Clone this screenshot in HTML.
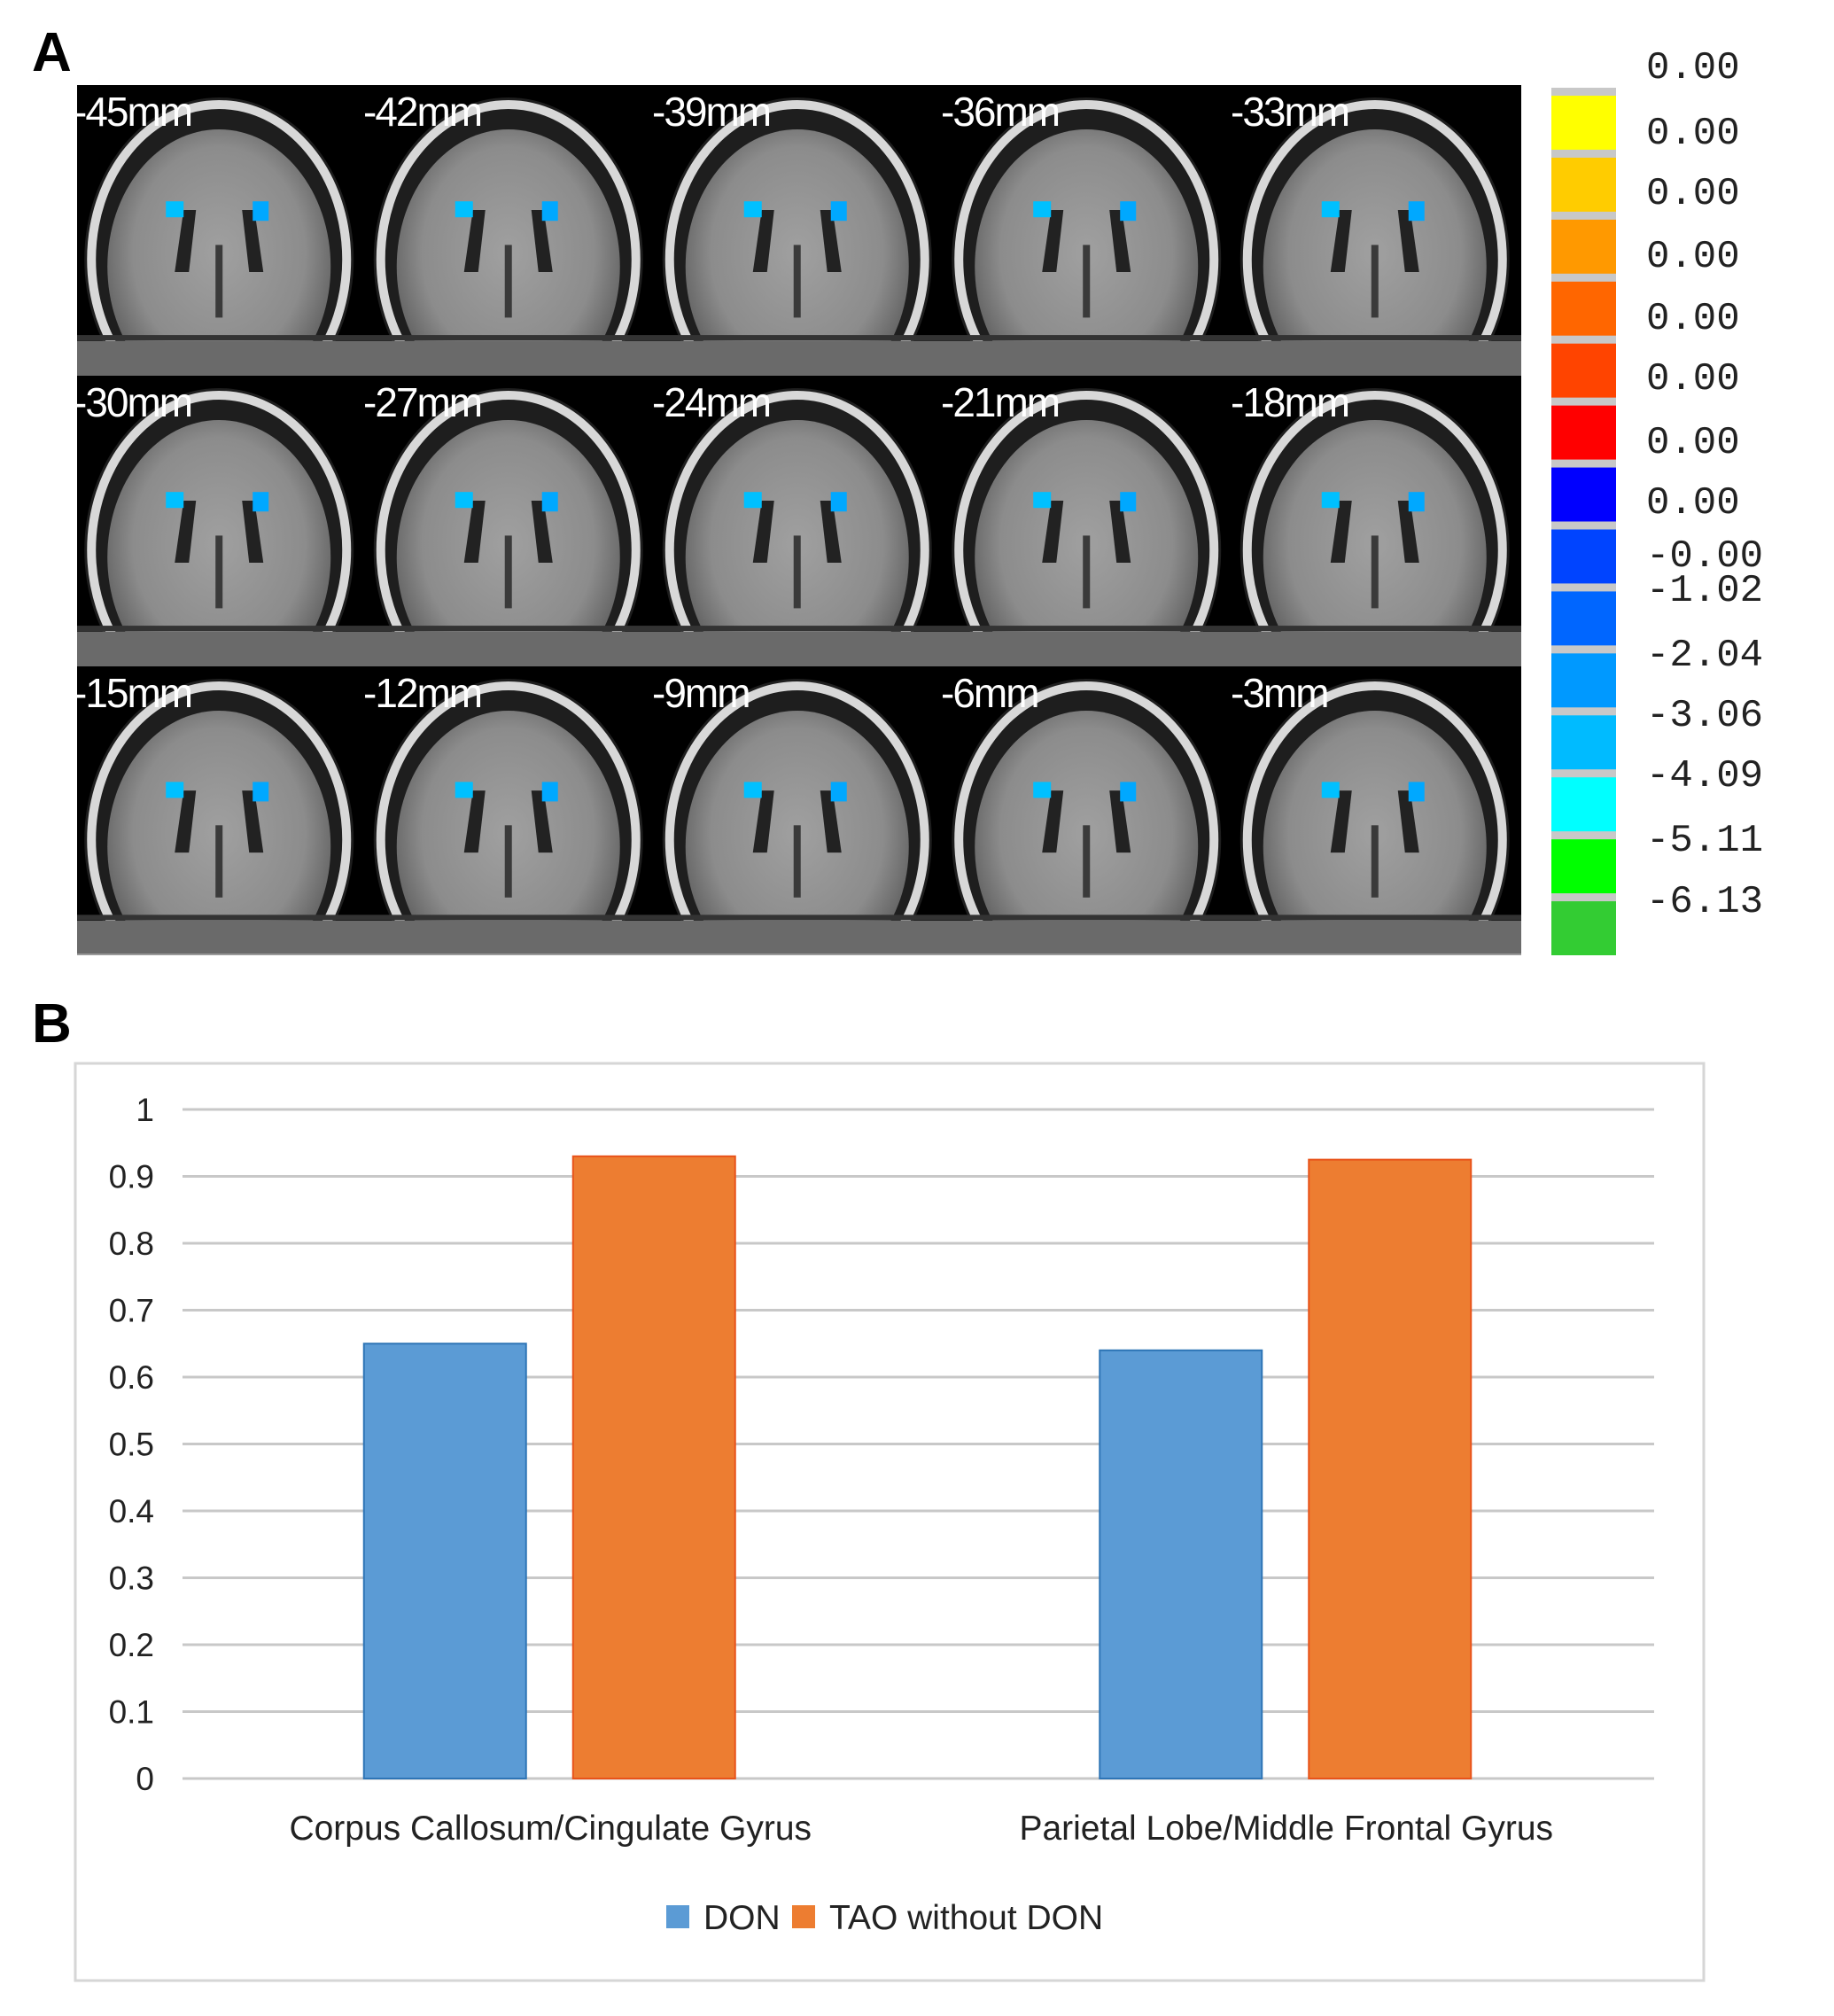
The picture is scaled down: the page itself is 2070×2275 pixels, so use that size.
<!DOCTYPE html>
<html><head><meta charset="utf-8"><style>
html,body{margin:0;padding:0;background:#fff;}
body{width:2070px;height:2275px;position:relative;overflow:hidden;font-family:"Liberation Sans",sans-serif;}
.abs{position:absolute;}
</style></head><body>
<div class="abs" style="left:36px;top:24px;font-size:62px;font-weight:bold;">A</div>
<div class="abs" style="left:36px;top:1120px;font-size:62px;font-weight:bold;">B</div>
<svg class="abs" style="left:0;top:0" width="2070" height="2275">
<defs>
<radialGradient id="brain" cx="50%" cy="45%" r="55%"><stop offset="0" stop-color="#a0a0a0"/><stop offset="0.7" stop-color="#8c8c8c"/><stop offset="1" stop-color="#606060"/></radialGradient>
</defs>
<g id="slices"></g>
<g id="cbar"></g>
<g id="chart"></g>
</svg>
<script>
const NS='http://www.w3.org/2000/svg';
function mk(tag,attrs,parent){const e=document.createElementNS(NS,tag);for(const k in attrs)e.setAttribute(k,attrs[k]);parent.appendChild(e);return e;}
// ---- Panel A slices
const sliceLabels=['-45mm','-42mm','-39mm','-36mm','-33mm','-30mm','-27mm','-24mm','-21mm','-18mm','-15mm','-12mm','-9mm','-6mm','-3mm'];
const colX=[87,414,740,1066,1393,1717];
const rowY=[96,424,752,1078];
const sl=document.getElementById('slices');
const defs=document.querySelector('defs');
mk('rect',{x:87,y:96,width:1630,height:982,fill:'#000'},sl);
sliceLabels.forEach((lab,i)=>{
  const r=Math.floor(i/5),c=i%5;
  const x0=colX[c],y0=rowY[r],w=colX[c+1]-x0,h=rowY[r+1]-y0;
  const cp=mk('clipPath',{id:'cp'+i},defs);
  mk('rect',{x:x0,y:y0,width:w,height:h},cp);
  const g=mk('g',{'clip-path':'url(#cp'+i+')'},sl);
  
  
  const cx=x0+w*0.49,cy=y0+h*0.6;
  mk('ellipse',{cx:cx,cy:cy,rx:152,ry:cy-y0-14,fill:'#1e1e1e'},g);
  mk('ellipse',{cx:cx,cy:cy,rx:144,ry:cy-y0-22,fill:'none',stroke:'#d8d8d8','stroke-width':10},g);
  mk('ellipse',{cx:cx,cy:cy+8,rx:126,ry:cy-y0-42,fill:'url(#brain)'},g);
  mk('rect',{x:x0,y:y0+h*0.88,width:w,height:h*0.12,fill:'#6a6a6a'},g);
  mk('rect',{x:x0,y:y0+h*0.86,width:w,height:6,fill:'#333'},g);
  mk('path',{d:`M${cx-40} ${y0+h*0.43} l14 0 l-8 70 l-16 0 Z`,fill:'#222'},g);
  mk('path',{d:`M${cx+26} ${y0+h*0.43} l14 0 l10 70 l-16 0 Z`,fill:'#222'},g);
  mk('rect',{x:cx-4,y:y0+h*0.55,width:8,height:h*0.25,fill:'#3a3a3a'},g);
  mk('rect',{x:cx-60,y:y0+h*0.4,width:20,height:18,fill:'#00c0ff'},g);
  mk('rect',{x:cx+38,y:y0+h*0.4,width:18,height:22,fill:'#00a8ff'},g);
  const t=mk('text',{x:x0-4,y:y0+46,fill:'#fff','font-size':46,'letter-spacing':-2,'font-family':'Liberation Sans, sans-serif'},sl);
  t.textContent=lab;
  
  
});
mk('line',{x1:87,x2:1717,y1:1077,y2:1077,stroke:'#999','stroke-width':2},sl);
// ---- colorbar
const cbColors=['#ffff00','#ffcc00','#ff9900','#ff6600','#ff4400','#ff0000','#0000ff','#0044ff','#0066ff','#0099ff','#00bbff','#00ffff','#00ff00','#33cc33'];
const cbLabels=['0.00','0.00','0.00','0.00','0.00','0.00','0.00','0.00','-0.00','-1.02','-2.04','-3.06','-4.09','-5.11','-6.13'];
const cbLabelY=[73,147,215,286,356,424,496,564,624,663,736,804,872,945,1014];
const cb=document.getElementById('cbar');
mk('rect',{x:1751,y:99,width:73,height:979,fill:'#c8c8c8'},cb);
const segH=979/14;
cbColors.forEach((col,i)=>{
  const r=mk('rect',{x:1751,y:99+i*segH+9,width:73,height:segH-9,fill:col},cb);
  
  
});
cbLabels.forEach((lab,i)=>{
  const t=mk('text',{x:1858,y:cbLabelY[i]+15,fill:'#222','font-size':44,'font-family':'Liberation Mono, monospace'},cb);
  t.textContent=lab;
  
  
});
// ---- Panel B chart
const categories=['Corpus Callosum/Cingulate Gyrus','Parietal Lobe/Middle Frontal Gyrus'];
const seriesNames=['DON','TAO without DON'];
const donValues=[0.65,0.64];
const taoValues=[0.93,0.925];
const yTicks=['0','0.1','0.2','0.3','0.4','0.5','0.6','0.7','0.8','0.9','1'];
const ch=document.getElementById('chart');
const plotL=206,plotR=1867,plotT=1252,plotB=2007;
const yS=v=>plotB-(v/1)*(plotB-plotT);
const groupW=(plotR-plotL)/categories.length;
const xC=i=>plotL+groupW*(i+0.5);
mk('rect',{x:85,y:1200,width:1838,height:1035,fill:'#fff',stroke:'#d6d6d6','stroke-width':3},ch);
yTicks.forEach(tk=>{
  const v=parseFloat(tk);
  const l=mk('line',{x1:plotL,x2:plotR,y1:yS(v),y2:yS(v),stroke:'#c8c8c8','stroke-width':3},ch);
  
  
  const t=mk('text',{x:174,y:yS(v)+13,'text-anchor':'end','font-size':37,fill:'#222'},ch);
  t.textContent=tk;
  
  
});
const barW=183;
categories.forEach((cat,i)=>{
  const b1=mk('rect',{x:xC(i)-119-barW/2,y:yS(donValues[i]),width:barW,height:plotB-yS(donValues[i]),fill:'#5b9bd5',stroke:'#2e75b6','stroke-width':2},ch);
  
  
  const b2=mk('rect',{x:xC(i)+117-barW/2,y:yS(taoValues[i]),width:barW,height:plotB-yS(taoValues[i]),fill:'#ed7d31',stroke:'#e8531a','stroke-width':2},ch);
  
  
  const t=mk('text',{x:xC(i),y:2076,'text-anchor':'middle','font-size':39,fill:'#222'},ch);
  t.textContent=cat;
  
  
});
const legX=[752,894],legCol=['#5b9bd5','#ed7d31'];
seriesNames.forEach((n,i)=>{
  const g=mk('g',{},ch);
  
  
  mk('rect',{x:legX[i],y:2150,width:26,height:26,fill:legCol[i]},g);
  const t=mk('text',{x:legX[i]+42,y:2177,'font-size':39,fill:'#222'},g);
  t.textContent=n;
});
</script>
</body></html>
